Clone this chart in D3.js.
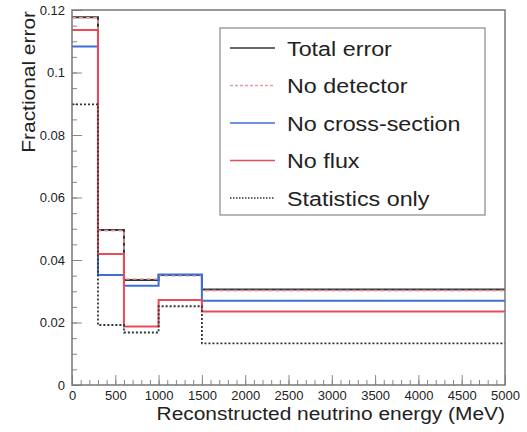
<!DOCTYPE html>
<html>
<head>
<meta charset="utf-8">
<script src="https://cdn.jsdelivr.net/npm/d3@7"></script>
<style>
  body { margin: 0; background: #fff; }
  svg text { font-family: "Liberation Sans", Arial, sans-serif; fill: #222; }
</style>
</head>
<body>
<svg id="chart" width="527" height="432"></svg>
<script>
// bin edges (MeV) and fractional errors per bin
const binEdges = [0, 300, 600, 1000, 1500, 5000];
const totalError = [0.1177, 0.0496, 0.0336, 0.0352, 0.0306];
const noDetector = [0.1175, 0.0494, 0.0339, 0.0350, 0.0302];
const noCrossSection = [0.1083, 0.0352, 0.0318, 0.0354, 0.0270];
const noFlux = [0.1136, 0.0419, 0.0187, 0.0272, 0.0235];
const statsOnly = [0.0898, 0.0192, 0.0168, 0.0252, 0.0133];

const xTicks = [0, 500, 1000, 1500, 2000, 2500, 3000, 3500, 4000, 4500, 5000];
const yTicks = [0, 0.02, 0.04, 0.06, 0.08, 0.1, 0.12];
const yTickLabels = ['0', '0.02', '0.04', '0.06', '0.08', '0.1', '0.12'];

const seriesNames = ['Total error', 'No detector', 'No cross-section', 'No flux', 'Statistics only'];

const svg = d3.select('#chart');
const frame = { left: 72, right: 505, top: 10, bottom: 385 };

const x = d3.scaleLinear().domain([0, 5000]).range([frame.left, frame.right]);
const y = d3.scaleLinear().domain([0, 0.12]).range([frame.bottom, frame.top]);

// styles for each histogram
const styles = [
  { data: totalError, color: '#333', width: 2, dash: null },
  { data: noDetector, color: '#e59aa0', width: 1.6, dash: '4,3' },
  { data: noCrossSection, color: '#3f6fd6', width: 2, dash: null },
  { data: noFlux, color: '#ec4a57', width: 2, dash: null },
  { data: statsOnly, color: '#333', width: 1.8, dash: '2,2' }
];

// minor ticks
svg.append('g')
  .attr('transform', `translate(0,${frame.bottom})`)
  .call(d3.axisBottom(x).tickValues(x.ticks(50)).tickSize(-5).tickFormat(''))
  .call(g => g.select('.domain').remove())
  .call(g => g.selectAll('line').attr('stroke', '#888'));
svg.append('g')
  .attr('transform', `translate(${frame.left},0)`)
  .call(d3.axisLeft(y).tickValues(y.ticks(24)).tickSize(-5).tickFormat(''))
  .call(g => g.select('.domain').remove())
  .call(g => g.selectAll('line').attr('stroke', '#888'));

// major ticks + labels
const xAxis = svg.append('g')
  .attr('transform', `translate(0,${frame.bottom})`)
  .call(d3.axisBottom(x).tickValues(xTicks).tickSizeInner(-10).tickSizeOuter(0).tickPadding(6).tickFormat(d3.format('d')));
const yAxis = svg.append('g')
  .attr('transform', `translate(${frame.left},0)`)
  .call(d3.axisLeft(y).tickValues(yTicks).tickSizeInner(-10).tickSizeOuter(0).tickPadding(7)
    .tickFormat((d, i) => yTickLabels[i]));

[xAxis, yAxis].forEach(a => {
  a.select('.domain').remove();
  a.selectAll('line').attr('stroke', '#888');
  a.selectAll('text').style('font-size', '13px').attr('fill', '#333');
});

// histograms
const line = d3.line()
  .x(d => x(d[0]))
  .y(d => y(d[1]))
  .curve(d3.curveStepAfter);

styles.forEach(s => {
  const pts = s.data.map((v, i) => [binEdges[i], v]);
  pts.push([binEdges[binEdges.length - 1], s.data[s.data.length - 1]]);
  svg.append('path')
    .attr('d', line(pts))
    .attr('fill', 'none')
    .attr('stroke', s.color)
    .attr('stroke-width', s.width)
    .attr('stroke-dasharray', s.dash);
});

// frame
svg.append('rect')
  .attr('x', frame.left).attr('y', frame.top)
  .attr('width', frame.right - frame.left).attr('height', frame.bottom - frame.top)
  .attr('fill', 'none').attr('stroke', '#777').attr('stroke-width', 1.5);

// axis titles (slightly wide lettering like the original)
svg.append('text')
  .attr('transform', `translate(${frame.right},420) scale(1.1,1)`)
  .attr('text-anchor', 'end')
  .style('font-size', '19px')
  .text('Reconstructed neutrino energy (MeV)');

svg.append('text')
  .attr('transform', 'translate(35,11) rotate(-90) scale(1.1,1)')
  .attr('text-anchor', 'end')
  .style('font-size', '19px')
  .text('Fractional error');

// legend
const legend = svg.append('g');
legend.append('rect')
  .attr('x', 220).attr('y', 28).attr('width', 265).attr('height', 187)
  .attr('fill', '#fff').attr('stroke', '#888').attr('stroke-width', 1.2);

styles.forEach((s, i) => {
  const cy = 48 + i * 37.5;
  legend.append('line')
    .attr('x1', 230).attr('x2', 275)
    .attr('y1', cy).attr('y2', cy)
    .attr('stroke', s.color)
    .attr('stroke-width', s.dash ? 1.3 : 1.6)
    .attr('stroke-dasharray', s.dash ? (i === 4 ? '1.5,1.5' : '3,2') : null);
  legend.append('text')
    .attr('transform', `translate(287,${cy + 7.5}) scale(1.11,1)`)
    .style('font-size', '21px')
    .text(seriesNames[i]);
});
</script>
</body>
</html>
